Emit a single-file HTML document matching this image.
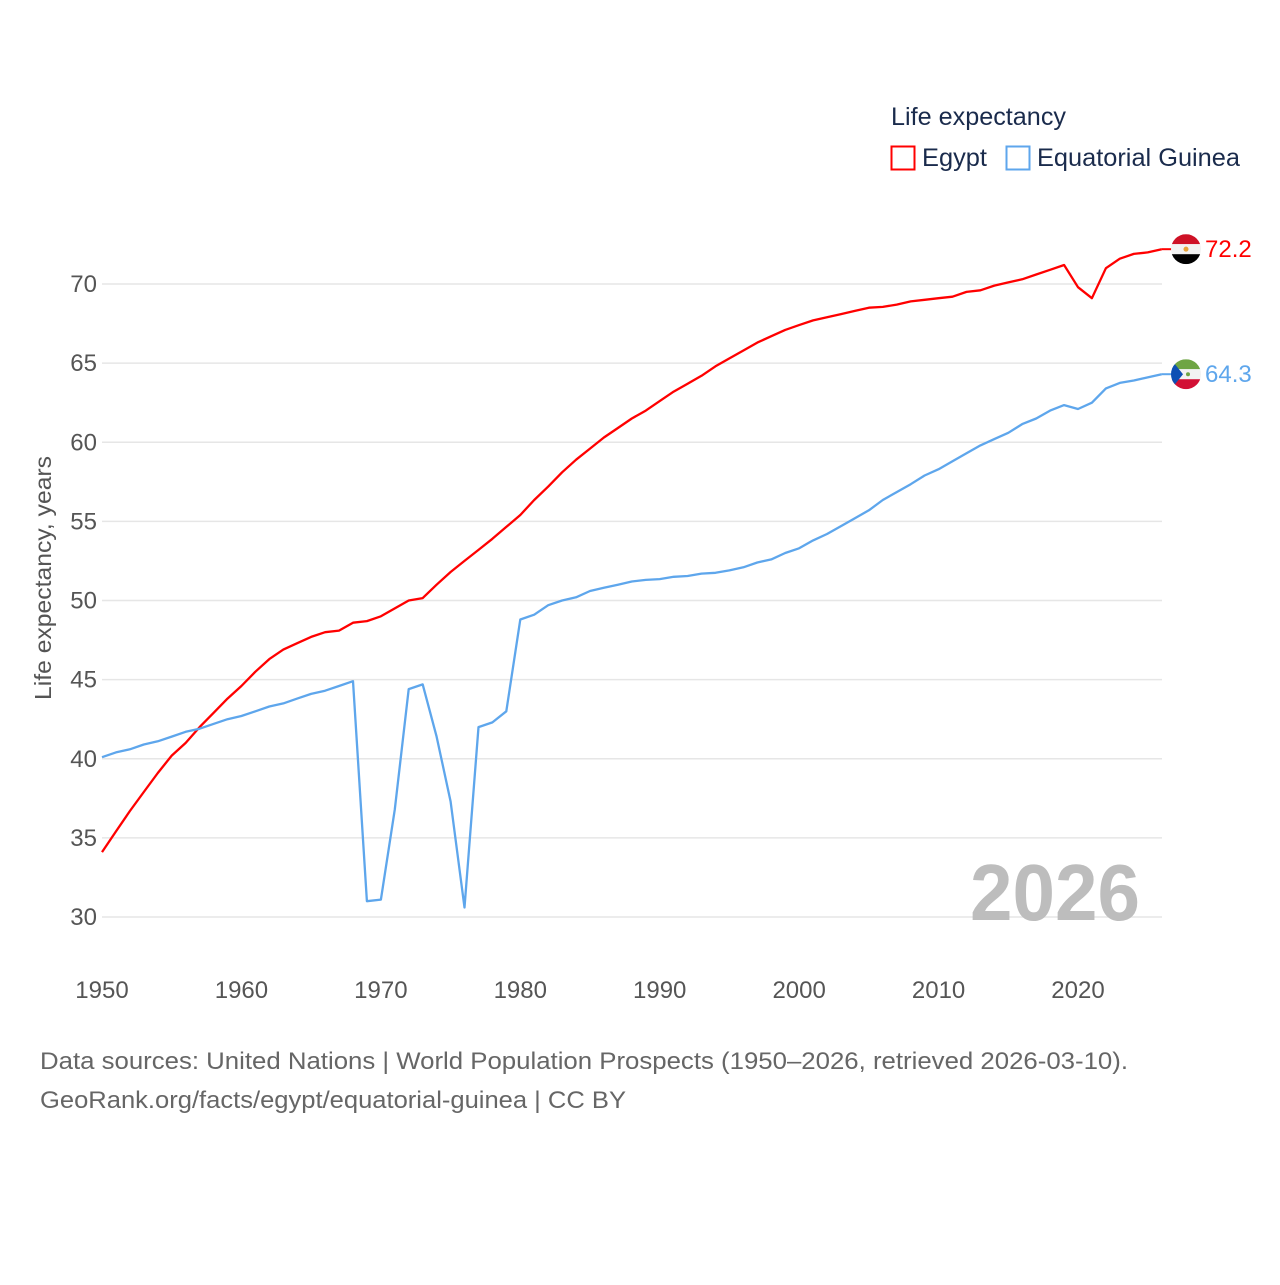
<!DOCTYPE html>
<html><head><meta charset="utf-8"><style>
body{margin:0;background:#fff;}
svg text{font-family:"Liberation Sans",sans-serif;}
</style></head><body>
<svg id="chart" width="1280" height="1280" viewBox="0 0 1280 1280" xmlns="http://www.w3.org/2000/svg">
<g id="grid"></g>
<g id="yticks"></g>
<g id="xticks"></g>
<text transform="translate(51,578) rotate(-90)" text-anchor="middle" font-size="23" fill="#555" textLength="244" lengthAdjust="spacingAndGlyphs">Life expectancy, years</text>
<text x="970" y="920" font-size="80" font-weight="bold" fill="#bdbdbd" textLength="170" lengthAdjust="spacingAndGlyphs">2026</text>
<g id="series"></g>
<g>
<text x="891" y="125" font-size="25" fill="#1a2b4c" textLength="175" lengthAdjust="spacingAndGlyphs">Life expectancy</text>
<rect x="891.5" y="146.5" width="23" height="23" fill="none" stroke="#ff0000" stroke-width="2"/>
<text x="922" y="166" font-size="25" fill="#1a2b4c" textLength="65" lengthAdjust="spacingAndGlyphs">Egypt</text>
<rect x="1006.5" y="146.5" width="23" height="23" fill="none" stroke="#5ea6ec" stroke-width="2"/>
<text x="1037" y="166" font-size="25" fill="#1a2b4c" textLength="203" lengthAdjust="spacingAndGlyphs">Equatorial Guinea</text>
</g>
<text x="40" y="1069" font-size="24" fill="#666" textLength="1088" lengthAdjust="spacingAndGlyphs">Data sources: United Nations | World Population Prospects (1950–2026, retrieved 2026-03-10).</text>
<text x="40" y="1108" font-size="24" fill="#666" textLength="586" lengthAdjust="spacingAndGlyphs">GeoRank.org/facts/egypt/equatorial-guinea | CC BY</text>
</svg>
<script>
const years=[];for(let y=1950;y<=2026;y++)years.push(y);
const egypt=[34.1,35.4,36.7,37.9,39.1,40.2,41.0,42.0,42.9,43.8,44.6,45.5,46.3,46.9,47.3,47.7,48.0,48.1,48.6,48.7,49.0,49.5,50.0,50.15,51.0,51.8,52.5,53.2,53.9,54.65,55.4,56.35,57.2,58.1,58.9,59.6,60.3,60.9,61.5,62.0,62.6,63.2,63.7,64.2,64.8,65.3,65.8,66.3,66.7,67.1,67.4,67.7,67.9,68.1,68.3,68.5,68.55,68.7,68.9,69.0,69.1,69.2,69.5,69.6,69.9,70.1,70.3,70.6,70.9,71.2,69.8,69.1,71.0,71.6,71.9,72.0,72.2];
const eqGuinea=[40.1,40.4,40.6,40.9,41.1,41.4,41.7,41.9,42.2,42.5,42.7,43.0,43.3,43.5,43.8,44.1,44.3,44.6,44.9,31.0,31.1,36.8,44.4,44.7,41.4,37.3,30.6,42.0,42.3,43.0,48.8,49.1,49.7,50.0,50.2,50.6,50.8,51.0,51.2,51.3,51.35,51.5,51.55,51.7,51.75,51.9,52.1,52.4,52.6,53.0,53.3,53.8,54.2,54.7,55.2,55.7,56.35,56.85,57.35,57.9,58.3,58.8,59.3,59.8,60.2,60.6,61.15,61.5,62.0,62.35,62.1,62.5,63.4,63.75,63.9,64.1,64.3];
const yTicks=[30,35,40,45,50,55,60,65,70];
const xTicks=[1950,1960,1970,1980,1990,2000,2010,2020];
const NS="http://www.w3.org/2000/svg";
const xs=y=>102+(y-1950)*(976/70);
const ys=v=>917-(v-30)*(633/40);
function mk(tag,attrs,parent){const e=document.createElementNS(NS,tag);for(const k in attrs)e.setAttribute(k,attrs[k]);parent.appendChild(e);return e;}
const grid=document.getElementById('grid'),yt=document.getElementById('yticks'),xt=document.getElementById('xticks'),ser=document.getElementById('series');
yTicks.forEach(v=>{
 const l=mk('line',{x1:102,x2:1162,y1:ys(v),y2:ys(v),stroke:'#e6e6e6','stroke-width':1.5},grid);
 
 
 const t=mk('text',{x:97,y:ys(v)+8,'text-anchor':'end','font-size':24,fill:'#555'},yt);
 t.textContent=v;
 
 
});
xTicks.forEach(v=>{
 const t=mk('text',{x:xs(v),y:998,'text-anchor':'middle','font-size':24,fill:'#555'},xt);
 t.textContent=v;
 
 
});
function line(vals,color,name,flag){
 const d=vals.map((v,i)=>(i?'L':'M')+xs(years[i]).toFixed(1)+','+ys(v).toFixed(1)).join(' ');
 const p=mk('path',{d:d,fill:'none',stroke:color,'stroke-width':2.3,'stroke-linejoin':'round'},ser);
 
 
 const last=vals[vals.length-1],ly=ys(last),lx=xs(years[years.length-1]);
 const c=mk('line',{x1:lx,x2:1172,y1:ly,y2:ly,stroke:color,'stroke-width':2},ser);
 
 
 const g=mk('g',{transform:'translate(1186,'+ly+')'},ser);
 
 
 g.innerHTML=flag;
 const t=mk('text',{x:1205,y:ly+8,'font-size':24,fill:color},ser);
 t.textContent=last.toFixed(1);
 
 
}
const egFlag='<clipPath id="c1"><circle r="15"/></clipPath><g clip-path="url(#c1)"><rect x="-15" y="-15" width="30" height="10" fill="#ce1126"/><rect x="-15" y="-5" width="30" height="10" fill="#f2f2f2"/><rect x="-15" y="5" width="30" height="10" fill="#000"/><circle r="2.5" fill="#e8a33a"/></g>';
const gqFlag='<clipPath id="c2"><circle r="15"/></clipPath><g clip-path="url(#c2)"><rect x="-15" y="-15" width="30" height="10" fill="#6fa544"/><rect x="-15" y="-5" width="30" height="10" fill="#f2f2f2"/><rect x="-15" y="5" width="30" height="10" fill="#d21034"/><polygon points="-15,-15 -3,0 -15,15" fill="#0d4fb4"/><circle cx="2" r="2" fill="#6fa544"/></g>';
line(egypt,'#ff0000','egypt',egFlag);
line(eqGuinea,'#5ea6ec','equatorial-guinea',gqFlag);
</script>
</body></html>
